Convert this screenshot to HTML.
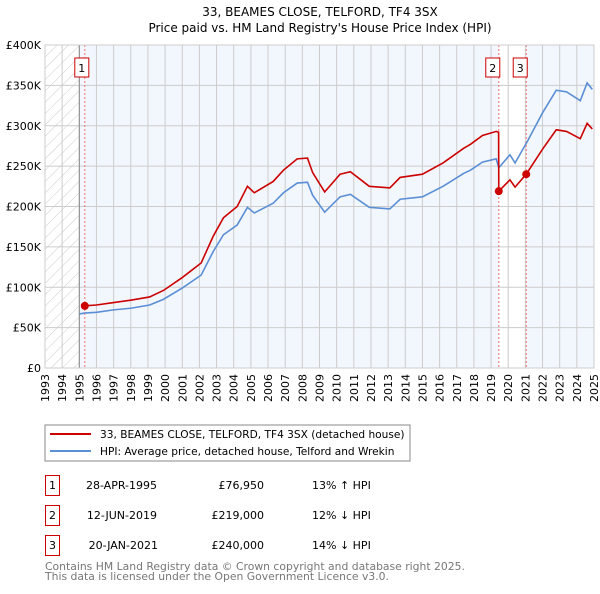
<!DOCTYPE html>
<html><head><meta charset="utf-8"><style>
body{margin:0;background:#fff;font-family:"DejaVu Sans","Liberation Sans",sans-serif}
svg text{font-family:"DejaVu Sans","Liberation Sans",sans-serif}
</style></head><body>
<svg id="c" width="600" height="590" xmlns="http://www.w3.org/2000/svg">
<defs><pattern id="hatch" width="8" height="8" patternUnits="userSpaceOnUse" patternTransform="rotate(45)"><line x1="0" y1="0" x2="0" y2="8" stroke="#ccc" stroke-width="1"/></pattern></defs>
<text x="320" y="16" text-anchor="middle" font-size="12">33, BEAMES CLOSE, TELFORD, TF4 3SX</text>
<text x="320" y="32" text-anchor="middle" font-size="12">Price paid vs. HM Land Registry's House Price Index (HPI)</text>
<g id="plot"></g>
<rect x="45" y="425" width="365" height="36" fill="#fff" stroke="#888"/>
<line x1="50" y1="434" x2="91" y2="434" stroke="#cc0000" stroke-width="2"/>
<text x="100" y="438" font-size="10.6">33, BEAMES CLOSE, TELFORD, TF4 3SX (detached house)</text>
<line x1="50" y1="451" x2="91" y2="451" stroke="#5b8fd4" stroke-width="2"/>
<text x="100" y="455" font-size="10.6">HPI: Average price, detached house, Telford and Wrekin</text>
<g font-size="11">
<rect x="45.5" y="475.5" width="14" height="20" fill="#fff" stroke="#cc0000"/><text x="52.5" y="489" text-anchor="middle">1</text>
<text x="157" y="489" text-anchor="end">28-APR-1995</text><text x="264" y="489" text-anchor="end">£76,950</text><text x="312" y="489">13% ↑ HPI</text>
<rect x="45.5" y="505.5" width="14" height="20" fill="#fff" stroke="#cc0000"/><text x="52.5" y="519" text-anchor="middle">2</text>
<text x="157" y="519" text-anchor="end">12-JUN-2019</text><text x="264" y="519" text-anchor="end">£219,000</text><text x="312" y="519">12% ↓ HPI</text>
<rect x="45.5" y="535.5" width="14" height="20" fill="#fff" stroke="#cc0000"/><text x="52.5" y="549" text-anchor="middle">3</text>
<text x="158" y="549" text-anchor="end">20-JAN-2021</text><text x="264" y="549" text-anchor="end">£240,000</text><text x="312" y="549">14% ↓ HPI</text>
</g>
<text x="45" y="570" font-size="10.8" fill="#777">Contains HM Land Registry data © Crown copyright and database right 2025.</text>
<text x="45" y="580" font-size="10.8" fill="#777">This data is licensed under the Open Government Licence v3.0.</text>
</svg>
<script>
const hpiYears=[1995.0,1995.3,1996,1997,1998,1999.1,1999.9,2001,2002.1,2002.8,2003.4,2004.2,2004.8,2005.2,2006.3,2006.9,2007.7,2008.3,2008.6,2009.3,2010.2,2010.8,2011.9,2013.1,2013.7,2015.0,2016.2,2017.4,2017.8,2018.5,2019.3,2019.45,2020.1,2020.4,2021.1,2022.0,2022.8,2023.4,2024.2,2024.6,2024.9];
const hpiValues=[67,68,69,72,74,78,85,99,115,144,165,177,199,192,204,217,229,230,214,193,212,215,199,197,209,212,225,241,245,255,259,248,264,254,280,316,344,342,331,353,345];
const redYears=[1995.32,1996,1997,1998,1999.1,1999.9,2001,2002.1,2002.8,2003.4,2004.2,2004.8,2005.2,2006.3,2006.9,2007.7,2008.3,2008.6,2009.3,2010.2,2010.8,2011.9,2013.1,2013.7,2015.0,2016.2,2017.4,2017.8,2018.5,2019.3,2019.44,2019.45,2020.1,2020.4,2021.05,2022.0,2022.8,2023.4,2024.2,2024.6,2024.9];
const redValues=[77,78,81,84,88,96,112,130,163,186,200,225,217,231,245,259,260,242,218,240,243,225,223,236,240,254,272,277,288,293,292,219,233,224,240,271,295,293,284,303,296];
const saleYears=[1995.32,2019.45,2021.05];
const saleValues=[76.95,219,240];
const saleLabels=["1","2","3"];
const yTicks=[0,50,100,150,200,250,300,350,400];
const yTickLabels=["£0","£50K","£100K","£150K","£200K","£250K","£300K","£350K","£400K"];
const xTicks=[1993,1994,1995,1996,1997,1998,1999,2000,2001,2002,2003,2004,2005,2006,2007,2008,2009,2010,2011,2012,2013,2014,2015,2016,2017,2018,2019,2020,2021,2022,2023,2024,2025];

const X0=45,X1=594,Y0=368,Y1=45;
const xs=y=>X0+(y-1993)/(2025-1993)*(X1-X0);
const ys=v=>Y0-v/400*(Y0-Y1);
const NS="http://www.w3.org/2000/svg";
const g=document.getElementById('plot');
function mk(t,a){const e=document.createElementNS(NS,t);for(const k in a)e.setAttribute(k,a[k]);g.appendChild(e);return e;}
let e;
e=mk('rect',{x:X0,y:Y1,width:X1-X0,height:Y0-Y1,fill:'#f2f6fd'});


e=mk('rect',{x:X0,y:Y1,width:xs(1995)-X0,height:Y0-Y1,fill:'#fff'});


e=mk('rect',{x:X0,y:Y1,width:xs(1995)-X0,height:Y0-Y1,fill:'url(#hatch)'});


e=mk('rect',{x:xs(saleYears[1]),y:Y1,width:xs(saleYears[2])-xs(saleYears[1]),height:Y0-Y1,fill:'#fff'});


xTicks.forEach(t=>{
 e=mk('line',{x1:xs(t),x2:xs(t),y1:Y1,y2:Y0,stroke:'#ccc','stroke-width':1});
 
 
 e=mk('text',{x:0,y:0,'font-size':11,'text-anchor':'end',transform:`translate(${xs(t)+4},${Y0+6}) rotate(-90)`});
 e.textContent=t;
 
 
});
yTicks.forEach((t,i)=>{
 e=mk('line',{x1:X0,x2:X1,y1:ys(t),y2:ys(t),stroke:'#ccc','stroke-width':1});
 
 
 e=mk('text',{x:X0-4,y:ys(t)+4,'font-size':11,'text-anchor':'end'});
 e.textContent=yTickLabels[i];
 
 
});
e=mk('line',{x1:xs(1995),x2:xs(1995),y1:Y1,y2:Y0,stroke:'#888','stroke-width':1});


saleYears.forEach(s=>{
 e=mk('line',{x1:xs(s),x2:xs(s),y1:Y1,y2:Y0,stroke:'#f07070','stroke-width':1,'stroke-dasharray':'2,2'});
 
 
});
e=mk('polyline',{points:hpiYears.map((y,i)=>xs(y)+','+ys(hpiValues[i])).join(' '),fill:'none',stroke:'#5b8fd4','stroke-width':1.6});


e=mk('polyline',{points:redYears.map((y,i)=>xs(y)+','+ys(redValues[i])).join(' '),fill:'none',stroke:'#cc0000','stroke-width':1.6});


saleYears.forEach((s,i)=>{
 e=mk('circle',{cx:xs(s),cy:ys(saleValues[i]),r:4,fill:'#cc0000'});
 
 
 const bx=xs(s)-(i==0?0:1)-7;
 e=mk('rect',{x:bx-(i==0?3:5),y:58,width:14,height:19,fill:'#fff',stroke:'#cc0000'});
 
 
 e=mk('text',{x:bx-(i==0?3:5)+7,y:72,'font-size':11,'text-anchor':'middle'});
 e.textContent=saleLabels[i];
 
 
});
e=mk('rect',{x:X0,y:Y1,width:X1-X0,height:Y0-Y1,fill:'none',stroke:'#ccc'});


</script>
</body></html>
